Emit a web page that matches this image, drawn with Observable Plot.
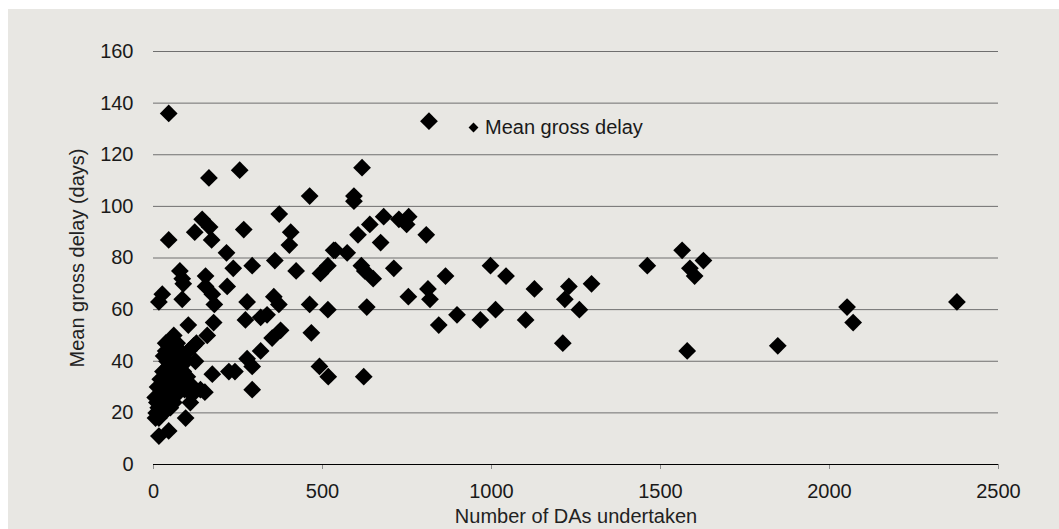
<!DOCTYPE html>
<html><head><meta charset="utf-8">
<script src="https://cdn.jsdelivr.net/npm/d3@7"></script>
<script src="https://cdn.jsdelivr.net/npm/@observablehq/plot@0.6"></script>
<style>
html,body{margin:0;padding:0;background:#fff;}
#wrap{position:relative;width:1059px;height:529px;overflow:hidden;}
#bg{position:absolute;left:8px;top:9px;right:0;bottom:0;background:#e8e7e3;}
#chart{position:absolute;left:0;top:0;}
#legend{position:absolute;left:470px;top:116px;font:20px "Liberation Sans",Arial,sans-serif;color:#1a1a1a;display:flex;align-items:center;white-space:nowrap;line-height:23px;}
#legend .sw{width:7px;height:7px;background:#000;transform:rotate(45deg);margin-right:8px;}
</style></head>
<body>
<div id="wrap"><div id="bg"></div><div id="chart"></div>
<div id="legend"><div class="sw"></div><span>Mean gross delay</span></div></div>
<script>
// Number of DAs undertaken
const das = [2377,2052,2070,1847,1579,1564,1587,1601,1627,1461,1296,1229,1217,1260,1211,1127,1101,1043,997,1012,967,898,864,844,818,812,807,815,754,755,749,726,711,681,672,650,640,631,615,625,617,622,605,593,593,573,538,533,516,494,516,517,491,467,462,462,422,406,402,372,371,376,356,351,359,336,317,317,292,292,292,277,272,277,267,255,236,216,218,223,241,174,180,178,172,166,164,144,154,154,174,159,152,139,114,122,127,119,124,103,95,109,88,85,78,85,60,45,36,80,80,40,45,45,26,16,16,45,6,
5,8,10,12,14,16,18,20,22,24,26,28,30,30,32,34,36,36,38,40,42,44,46,48,50,52,55,58,60,62,64,66,68,70,72,75,78,82,88,92,96,100,104,110];
// Mean gross delay (days)
const delay = [63,61,55,46,44,83,76,73,79,77,70,69,64,60,47,68,56,73,77,60,56,58,73,54,64,68,89,133,65,96,93,95,76,96,86,72,93,61,77,75,115,34,89,104,102,82,83,83,77,74,60,34,38,51,62,104,75,90,85,97,62,52,65,49,79,58,57,44,77,38,29,63,56,41,91,114,76,82,69,36,36,35,62,55,87,92,111,95,73,69,66,50,28,29,27,90,47,46,40,54,18,24,70,72,75,64,50,46,44,44,38,40,87,136,66,63,11,13,18,
26,20,24,30,22,18,27,33,25,20,29,36,23,42,31,27,47,34,21,25,30,38,33,27,22,41,35,29,24,44,32,38,27,47,35,30,41,33,36,29,40,34,44,31];
const xTicks = [0,500,1000,1500,2000,2500];
const yTicks = [0,20,40,60,80,100,120,140,160];
const xTitle = "Number of DAs undertaken";
const yTitle = "Mean gross delay (days)";

const rows = das.map((d,i)=>({das:d, delay:delay[i]}));
const font = "Liberation Sans, Arial, sans-serif";
const chart = Plot.plot({
  width: 1059, height: 529,
  marginLeft: 153, marginRight: 61, marginTop: 51, marginBottom: 65,
  style: {background: "transparent", fontFamily: font, fontSize: "20px", color: "#1a1a1a"},
  x: {domain: [0, 2500]},
  y: {domain: [0, 160]},
  marks: [
    Plot.gridY(yTicks.filter(d => d > 0), {stroke: "#6f6f6f", strokeOpacity: 1, strokeWidth: 1}),
    Plot.axisY(yTicks, {tickSize: 0, tickPadding: 20, label: null, fill: "#1a1a1a", fontSize: 20, tickFormat: d => String(d)}),
    Plot.axisX(xTicks, {tickSize: 5, tickPadding: 14, label: null, stroke: "#8c8c8c", fill: "#1a1a1a", fontSize: 20, tickFormat: d => String(d)}),
    Plot.dot(rows, {x: "das", y: "delay", symbol: "diamond2", r: 8, fill: "#000", stroke: "none"}),
    Plot.ruleY([0], {stroke: "#000", strokeWidth: 1}),
    Plot.text([xTitle], {text: d => d, frameAnchor: "bottom", dy: 52, lineAnchor: "middle", textAnchor: "middle", fontSize: 20, fill: "#222"}),
    Plot.text([yTitle], {text: d => d, frameAnchor: "left", dx: -76, rotate: -90, textAnchor: "middle", lineAnchor: "middle", fontSize: 20, fill: "#222"})
  ]
});
document.getElementById("chart").appendChild(chart);
</script>
</body></html>
